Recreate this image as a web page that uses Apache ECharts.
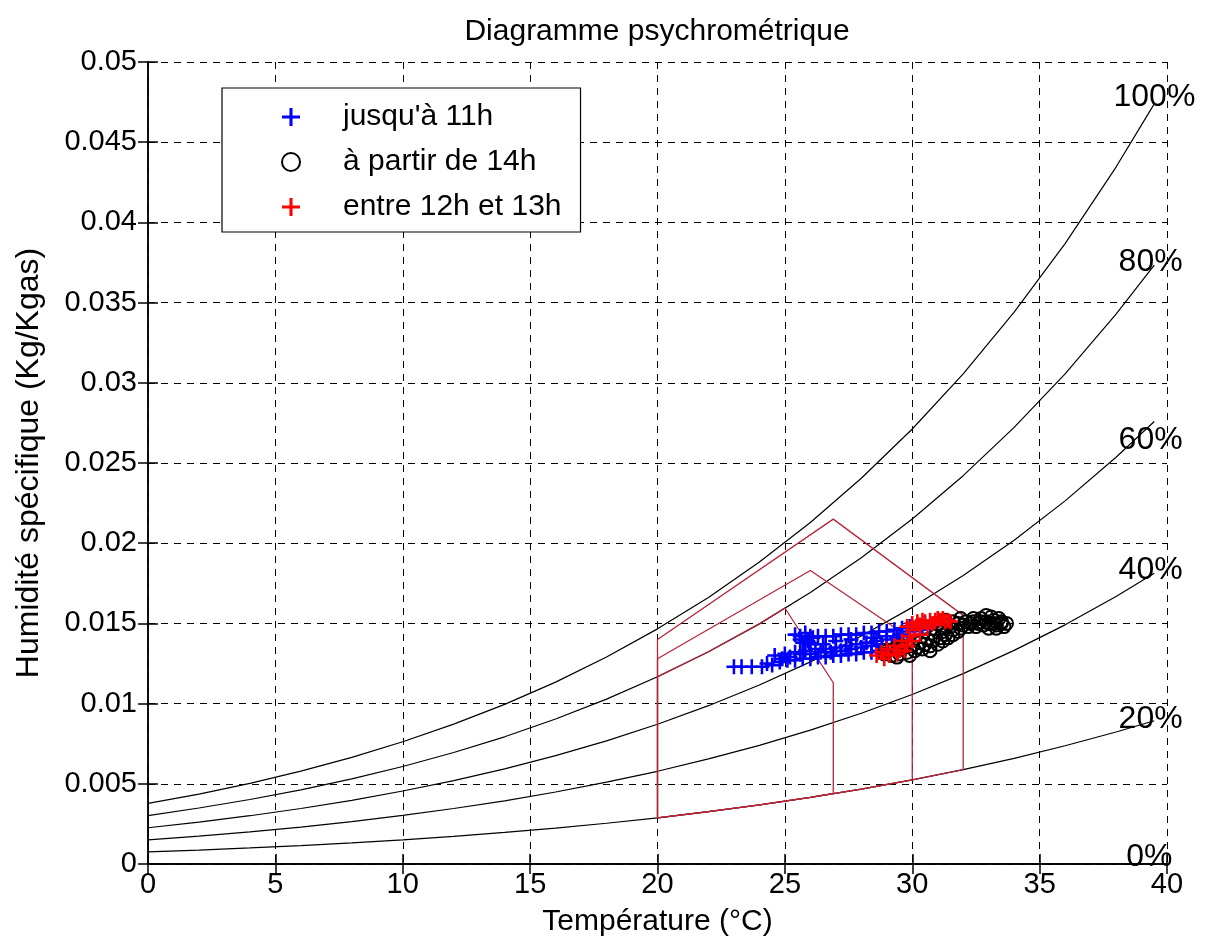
<!DOCTYPE html>
<html>
<head>
<meta charset="utf-8">
<script src="https://cdn.jsdelivr.net/npm/echarts@6/dist/echarts.min.js"></script>
<style>
html,body{margin:0;padding:0;background:#fff;}
#c{width:1209px;height:951px;}
</style>
</head>
<body>
<div id="c"></div>
<script>
// ---- relative humidity curves (temperature °C, specific humidity kg/kg) ----
const temps = [0,2,4,6,8,10,12,14,16,18,20,22,24,26,28,30,32,34,36,38,39.5];
const rh100 = [0.00378,0.00436,0.00503,0.00579,0.00665,0.00762,0.00872,0.00995,0.01134,0.01290,0.01466,0.01662,0.01883,0.02129,0.02405,0.02712,0.03056,0.03440,0.03868,0.04345,0.04739];
const rh80  = [0.00302,0.00349,0.00402,0.00462,0.00531,0.00608,0.00695,0.00793,0.00904,0.01028,0.01167,0.01323,0.01497,0.01692,0.01909,0.02151,0.02421,0.02722,0.03056,0.03428,0.03734];
const rh60  = [0.00226,0.00261,0.00301,0.00346,0.00397,0.00455,0.00520,0.00593,0.00676,0.00768,0.00871,0.00987,0.01116,0.01260,0.01421,0.01600,0.01798,0.02019,0.02264,0.02536,0.02759];
const rh40  = [0.00150,0.00174,0.00200,0.00230,0.00264,0.00303,0.00346,0.00394,0.00449,0.00510,0.00578,0.00655,0.00740,0.00835,0.00940,0.01057,0.01187,0.01332,0.01491,0.01668,0.01813];
const rh20  = [0.00075,0.00087,0.00100,0.00115,0.00132,0.00151,0.00172,0.00197,0.00224,0.00254,0.00288,0.00326,0.00368,0.00415,0.00467,0.00524,0.00588,0.00659,0.00737,0.00823,0.00893];
const rh0   = [0,0,0,0,0,0,0,0,0,0,0,0,0,0,0,0,0,0,0,0,0];

// curve labels
const curveLabels = ['100%','80%','60%','40%','20%','0%'];
const labelT      = [37.9, 38.1, 38.1, 38.1, 38.1, 38.4];
const labelH      = [0.0478, 0.0375, 0.0264, 0.0183, 0.0090, 0.0004];

// ---- comfort zones (upper outline; closed along the 20% curve) ----
const zoneOuterTop = [[20,0.0140],[26.9,0.0215],[32.0,0.0155]];
const zoneOuterBottomRight = [32.0,0.00588];
const zoneMiddleTop = [[20,0.0128],[26.0,0.0183],[30.0,0.0140]];
const zoneMiddleBottomRight = [30.0,0.00524];
const zoneInnerTop = [[20,0.01167],[22,0.01323],[24,0.01497],[25,0.01596],[26.9,0.0113]];
const zoneInnerBottomRight = [26.9,0.0044];

// ---- measurements ----
const blueT = [23.0,23.3,23.7,24.1,24.5,24.8,25.1,25.4,25.7,26.0,26.3,26.6,26.9,27.2,27.5,27.8,28.1,28.4,28.7,29.0,
  24.6,25.0,25.4,25.8,26.2,26.6,27.0,27.4,27.8,28.2,28.6,29.0,29.4,29.8,
  25.4,25.6,25.8,26.0,26.3,26.6,26.9,27.2,27.5,27.8,28.1,28.4,28.7,29.0,29.3,29.6,29.9,30.2,30.5,
  25.7,25.8,25.9,26.0,25.6,26.1,
  24.3,24.9,25.2,25.6,26.0,26.4,26.8,27.2,27.6,28.0,28.4,28.8,29.2,29.5,29.8,30.1,30.4,30.7,29.5,29.0,28.5,27.0,27.6,26.5];
const blueH = [0.0123,0.0123,0.0123,0.0123,0.0124,0.0126,0.0127,0.0127,0.0128,0.0128,0.0129,0.0129,0.0130,0.0130,0.0131,0.0131,0.0132,0.0132,0.0133,0.0134,
  0.0130,0.0131,0.0132,0.0133,0.0134,0.0134,0.0135,0.0136,0.0137,0.0138,0.0139,0.0140,0.0141,0.0142,
  0.0143,0.0142,0.0144,0.0142,0.0142,0.0142,0.0142,0.0143,0.0143,0.0143,0.0144,0.0144,0.0145,0.0145,0.0146,0.0147,0.0148,0.0149,0.0150,
  0.0138,0.0140,0.0139,0.0137,0.0140,0.0141,
  0.0125,0.0128,0.0129,0.0131,0.0131,0.0132,0.0132,0.0133,0.0134,0.0135,0.0136,0.0137,0.0137,0.0139,0.0145,0.0146,0.0147,0.0148,0.0143,0.0142,0.0141,0.0139,0.0140,0.0137];
const blackT = [28.9,29.2,29.5,29.8,30.1,30.4,30.7,31.0,31.2,31.4,31.6,31.8,30.0,30.3,30.6,30.9,31.2,31.5,31.8,32.1,32.4,32.7,33.0,33.3,33.5,33.4,33.1,32.8,32.5,32.2,33.6,29.6,29.9,31.0,31.3,32.9,33.2,
  29.0,29.3,29.6,30.2,30.5,30.8,31.1,31.3,31.6,31.9,32.0,32.3,32.6,32.9,33.2,33.5,33.3,33.0,32.7,32.4,31.6,31.9,33.7,29.4,30.7];
const blackH = [0.0131,0.0130,0.0131,0.0132,0.0133,0.0134,0.0136,0.0137,0.0139,0.0141,0.0143,0.0145,0.0136,0.0138,0.0140,0.0142,0.0145,0.0148,0.0150,0.0151,0.0151,0.0151,0.0150,0.0149,0.0150,0.0153,0.0154,0.0149,0.0148,0.0148,0.0148,0.0134,0.0130,0.0150,0.0152,0.0155,0.0152,
  0.0133,0.0134,0.0136,0.0135,0.0137,0.0139,0.0141,0.0143,0.0146,0.0147,0.0149,0.0150,0.0150,0.0151,0.0150,0.0151,0.0147,0.0147,0.0153,0.0153,0.0151,0.0153,0.0150,0.0129,0.0133];
const redT = [28.6,28.8,29.0,28.9,29.3,29.6,29.9,30.1,30.3,30.5,30.7,30.9,31.1,31.3,31.5,29.4,29.7,30.0,30.2,
  29.1,29.5,29.8,30.0,30.3,30.6,30.8,31.0,31.2,31.4,30.4,29.8];
const redH = [0.0130,0.0132,0.0134,0.0128,0.0136,0.0139,0.0142,0.0146,0.0149,0.0151,0.0152,0.0152,0.0152,0.0151,0.0151,0.0131,0.0133,0.0150,0.0151,
  0.0130,0.0133,0.0136,0.0139,0.0143,0.0147,0.0150,0.0153,0.0153,0.0152,0.0152,0.0148];

const seriesNames = ["jusqu'à 11h", "à partir de 14h", "entre 12h et 13h"];

// ---- helpers that only assemble library data ----
const pairs = (xs, ys) => xs.map((x, i) => [x, ys[i]]);
function zonePath(top, bottomRight) {
  const pts = [[top[0][0], rh20[temps.indexOf(top[0][0])]]].concat(top);
  pts.push(bottomRight);
  for (let i = temps.length - 1; i >= 0; i--) {
    if (temps[i] < bottomRight[0] && temps[i] >= top[0][0]) pts.push([temps[i], rh20[i]]);
  }
  return pts;
}

const FONT = 'Liberation Sans, Arial, sans-serif';
const crossPath = 'path://M-1.2,-7 L1.2,-7 L1.2,-1.2 L7,-1.2 L7,1.2 L1.2,1.2 L1.2,7 L-1.2,7 L-1.2,1.2 L-7,1.2 L-7,-1.2 L-1.2,-1.2 Z';

const curveSeries = [rh100, rh80, rh60, rh40, rh20, rh0].map((c) => ({
  type: 'line', data: pairs(temps, c), showSymbol: false, silent: true,
  lineStyle: { color: '#000', width: 1.2 }, z: 3
}));
const zoneColor = '#b5263a';
const zoneSeries = [[zoneOuterTop, zoneOuterBottomRight], [zoneMiddleTop, zoneMiddleBottomRight], [zoneInnerTop, zoneInnerBottomRight]].map((z) => ({
  type: 'line', data: zonePath(z[0], z[1]), showSymbol: false, silent: true,
  lineStyle: { color: zoneColor, width: 1.3 }, z: 4
}));

const chart = echarts.init(document.getElementById('c'), null, { renderer: 'canvas' });
const axisLineStyle = { color: '#000', width: 1.5 };
chart.setOption({
  animation: false,
  backgroundColor: '#fff',
  title: {
    text: 'Diagramme psychrométrique', left: 652, top: 12, textAlign: 'center',
    textStyle: { fontFamily: FONT, fontSize: 30, fontWeight: 'normal', color: '#000' }
  },
  grid: { left: 148, right: 42, top: 62, bottom: 87 },
  legend: {
    data: seriesNames, orient: 'vertical', left: 222, top: 88,
    padding: [14, 19, 10, 59], itemGap: 15, itemWidth: 18, itemHeight: 18,
    backgroundColor: '#fff', borderColor: '#000', borderWidth: 1.2,
    textStyle: { fontFamily: FONT, fontSize: 30, color: '#000', lineHeight: 30, padding: [0, 0, 0, 38] },
    selectedMode: false
  },
  xAxis: [
    { type: 'value', min: 0, max: 40, interval: 5, position: 'bottom',
      name: 'Température (°C)', nameLocation: 'middle', nameGap: 43,
      nameTextStyle: { fontFamily: FONT, fontSize: 30, color: '#000' },
      axisLine: { show: true, lineStyle: axisLineStyle },
      axisTick: { show: true, inside: true, length: 10, lineStyle: axisLineStyle },
      axisLabel: { fontFamily: FONT, fontSize: 29, color: '#000', margin: 6 },
      splitLine: { show: true, lineStyle: { color: '#000', width: 1, type: [7, 6] } } },
    { type: 'value', min: 0, max: 40, interval: 5, position: 'top',
      axisLine: { show: true, lineStyle: axisLineStyle },
      axisTick: { show: true, inside: true, length: 10, lineStyle: axisLineStyle },
      axisLabel: { show: false }, splitLine: { show: false } }
  ],
  yAxis: [
    { type: 'value', min: 0, max: 0.05, interval: 0.005, position: 'left',
      name: 'Humidité spécifique (Kg/Kgas)', nameLocation: 'middle', nameGap: 103, nameRotate: 90,
      nameTextStyle: { fontFamily: FONT, fontSize: 32, color: '#000' },
      axisLine: { show: true, lineStyle: axisLineStyle },
      axisTick: { show: true, inside: true, length: 10, lineStyle: axisLineStyle },
      axisLabel: { fontFamily: FONT, fontSize: 29, color: '#000', margin: 11 },
      splitLine: { show: true, lineStyle: { color: '#000', width: 1, type: [7, 6] } } },
    { type: 'value', min: 0, max: 0.05, interval: 0.005, position: 'right',
      axisLine: { show: true, lineStyle: axisLineStyle },
      axisTick: { show: true, inside: true, length: 10, lineStyle: axisLineStyle },
      axisLabel: { show: false }, splitLine: { show: false } }
  ],
  series: curveSeries.concat(zoneSeries).concat([
    { type: 'scatter', name: 'labels', silent: true, symbolSize: 0, z: 6,
      itemStyle: { opacity: 1 },
      data: labelT.map((t, i) => ({ value: [t, labelH[i]], label: { formatter: curveLabels[i] } })),
      label: { show: true, position: 'right', distance: 0, fontFamily: FONT, fontSize: 32, color: '#000' } },
    { type: 'scatter', name: seriesNames[0], data: pairs(blueT, blueH), symbol: crossPath, symbolSize: 15,
      itemStyle: { color: '#0000ff', opacity: 1 }, z: 7 },
    { type: 'scatter', name: seriesNames[1], data: pairs(blackT, blackH), symbol: 'circle', symbolSize: 13,
      itemStyle: { color: 'rgba(255,255,255,0)', borderColor: '#000', borderWidth: 2, opacity: 1 }, z: 8 },
    { type: 'scatter', name: seriesNames[2], data: pairs(redT, redH), symbol: crossPath, symbolSize: 15,
      itemStyle: { color: '#ff0000', opacity: 1 }, z: 9 }
  ])
});
</script>
</body>
</html>
